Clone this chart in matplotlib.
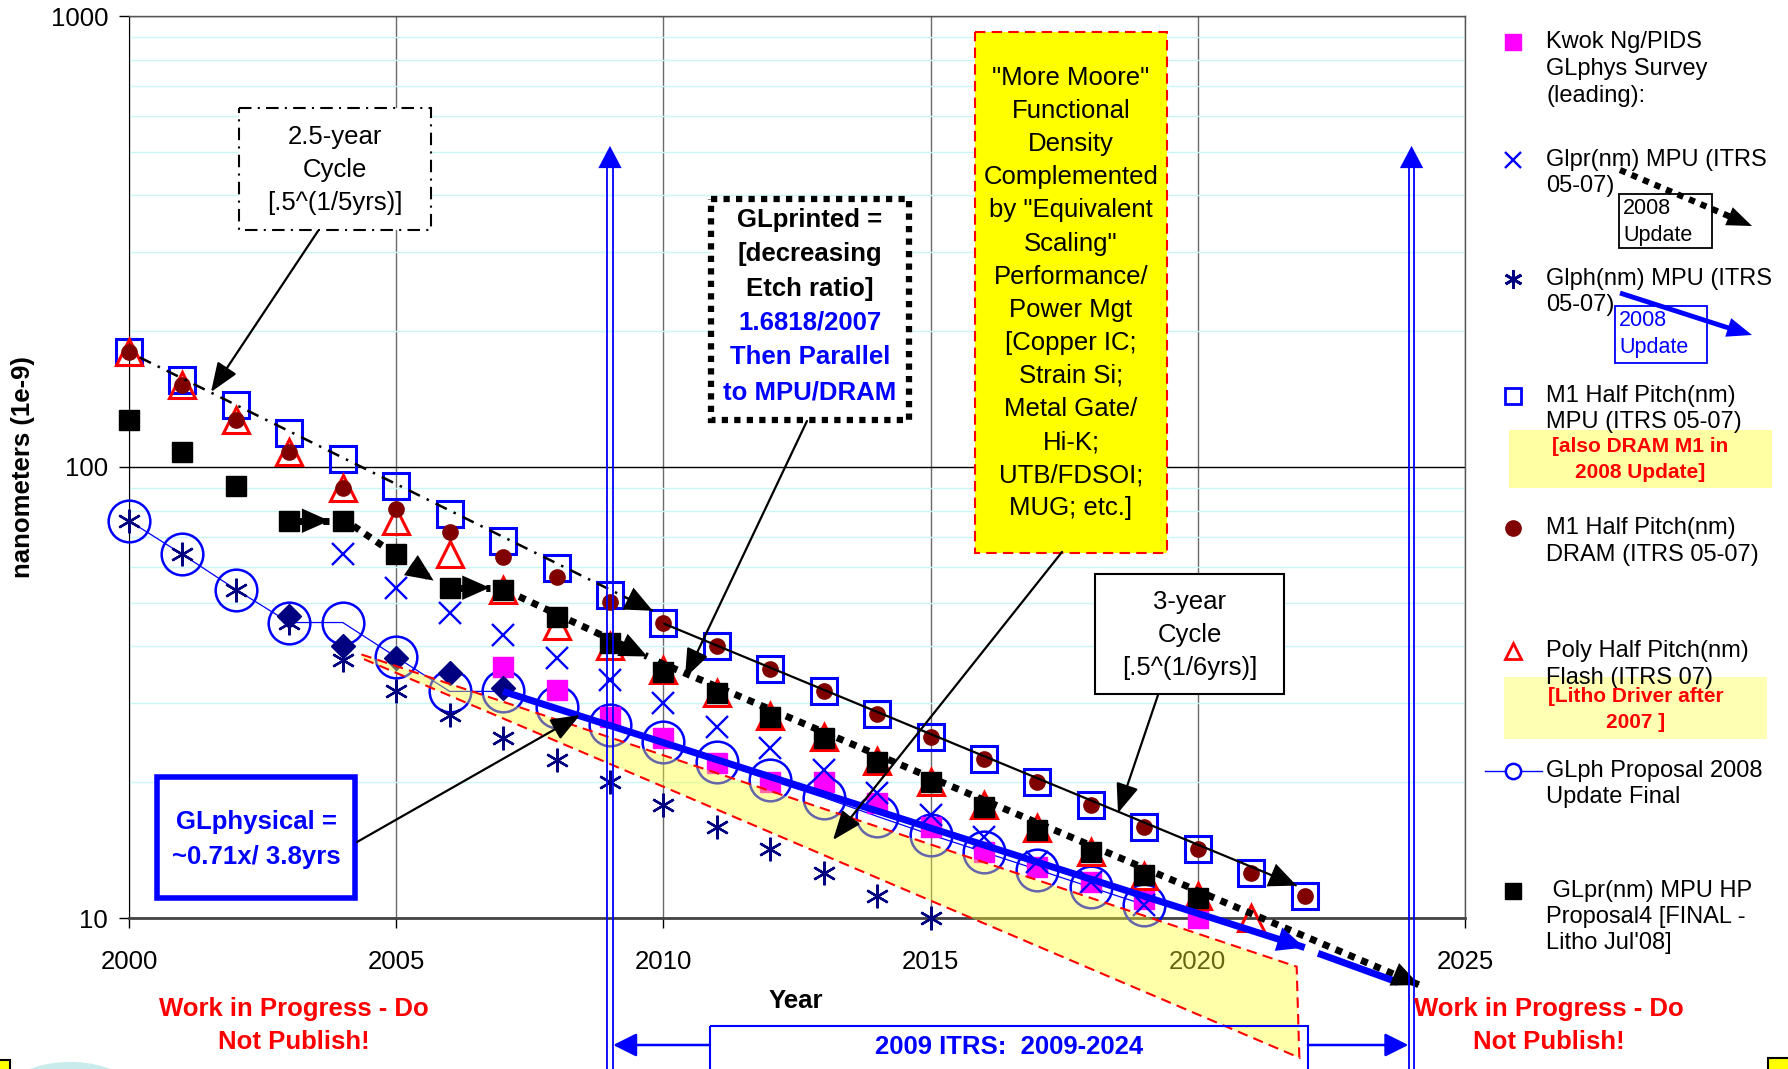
import matplotlib
matplotlib.use("Agg")
import matplotlib.pyplot as plt
from matplotlib.patches import Rectangle, Polygon, Ellipse
from matplotlib.ticker import LogLocator, NullFormatter

plt.rcParams['font.family'] = ['Liberation Sans', 'DejaVu Sans']

# ---- series (nm) ----
yrs_m1 = list(range(2000, 2023))
mpu_m1 = [180, 156, 137, 119, 104, 90.6, 78.5, 68.4, 59.6, 51.9, 45.2, 40, 35.7,
          31.8, 28.4, 25.2, 22.5, 20, 17.8, 15.9, 14.2, 12.6, 11.2]
dram_m1 = [180, 152, 127, 108, 90, 80.5, 71.6, 63.2, 56.9, 50.2, 45.2, 40, 35.7,
           31.8, 28.4, 25.2, 22.5, 20, 17.8, 15.9, 14.2, 12.6, 11.2]

yrs_flash = list(range(2000, 2022))
flash_poly = [180, 152, 127, 108, 90, 76, 64, 53.5, 44.3, 40, 35.5, 31.6, 28,
              25.2, 22.3, 20, 17.8, 15.8, 14, 12.4, 11.2, 10]

yrs_glpr = list(range(2004, 2020))
glpr_mpu = [64, 54, 47.5, 42.5, 37.8, 33.7, 30, 26.5, 23.8, 21.3, 18.9, 16.9,
            15.1, 13.3, 12, 10.7]

yrs_glph = list(range(2000, 2016))
glph_mpu = [76, 64, 53.5, 45.2, 37.4, 31.8, 28.2, 25.1, 22.4, 20, 17.8, 15.9,
            14.2, 12.6, 11.2, 10]

yrs_kwok = list(range(2007, 2021))
kwok_ng = [36, 32, 27.9, 25.1, 22.1, 20, 20, 18, 15.9, 14, 13, 12, 11, 10]

yrs_prop = list(range(2000, 2020))
glph_2008 = [76, 64, 53.5, 45.2, 45.2, 37.9, 31.8, 31.8, 29.3, 26.8, 24.5, 22.2,
             20.2, 18.5, 16.8, 15.3, 14.0, 12.8, 11.7, 10.7]

yrs_diam = list(range(2003, 2008))
glph_diam = [46.8, 40, 37.7, 35, 32.4]

yrs_hp4 = list(range(2000, 2021))
glpr_hp4 = [127, 108, 90.6, 76, 76, 64, 54, 53.5, 46.5, 40.7, 35.2, 31.6, 27.9,
            25.1, 22.2, 20, 17.6, 15.7, 14, 12.45, 11.1]

# trend lines: (x0, y0, x1, y1)
cycle_25 = (2000.2, 175, 2009.8, 48)
cycle_3 = (2010.0, 45, 2021.85, 11.8)
dotted_segs = [(2003.1, 76, 2003.75, 76), (2004.2, 74, 2005.7, 56),
               (2006.15, 54, 2006.75, 54), (2007.3, 51.6, 2009.7, 38),
               (2009.9, 37, 2024.15, 7.1)]
blue_main = (2007.0, 31.8, 2022.0, 8.6)
blue_tail = (2022.25, 8.35, 2023.75, 7.2)
band_x = [2004.35, 2021.85, 2021.9, 2004.35]
band_y = [38.4, 7.8, 4.9, 37.7]
itrs_span = (2009, 2024)

fig = plt.figure(figsize=(17.88, 10.69), dpi=100)
W, H = 1788, 1069
ax = fig.add_axes([129 / W, (H - 918) / H, 1336 / W, 902 / H])
ax.set_yscale('log')
ax.set_xlim(2000, 2025)
ax.set_ylim(10, 1000)
ax.set_xticks(range(2000, 2026, 5))
ax.set_yticks([10, 100, 1000])
ax.set_yticklabels(['10', '100', '1000'])
ax.yaxis.set_minor_locator(LogLocator(base=10, subs=range(2, 10)))
ax.yaxis.set_minor_formatter(NullFormatter())
ax.tick_params(axis='both', which='major', labelsize=18.5, length=7, width=1)
ax.tick_params(axis='x', pad=16)
ax.tick_params(axis='y', pad=8)
ax.tick_params(which='minor', length=0)
ax.set_axisbelow(True)
ax.grid(True, which='minor', axis='y', color='#c9f6f6', lw=1.0)
ax.grid(True, which='major', axis='y', color='black', lw=1.0)
ax.grid(True, which='major', axis='x', color='#6a6a6a', lw=1.0)
for s in ['top', 'right']:
    ax.spines[s].set_color('#555555')
    ax.spines[s].set_linewidth(1.0)
ax.spines['left'].set_color('black')
ax.spines['bottom'].set_color('#444444')
ax.spines['bottom'].set_linewidth(2.0)

# series markers
mk = dict(clip_on=False)
ax.plot(yrs_prop, glph_2008, '-o', color='blue', lw=0.9, ms=30, mfc='none',
        mec='blue', mew=1.8, zorder=3, **mk)
ax.plot(yrs_kwok, kwok_ng, 's', color='#ff00ff', ms=14, zorder=3.2, **mk)
ax.plot(yrs_glph, glph_mpu, ls='none', marker=(6, 2, 0), color='#000080',
        mec='#000080', ms=17, mew=1.7, zorder=3.4, **mk)
ax.plot(yrs_glpr, glpr_mpu, 'x', color='blue', ms=16, mew=1.7, zorder=3.5, **mk)
ax.plot(yrs_m1, mpu_m1, 's', mfc='none', mec='blue', ms=19, mew=2.2, zorder=3.6, **mk)
ax.plot(yrs_flash, flash_poly, '^', mfc='none', mec='red', ms=19, mew=2.2,
        zorder=3.7, **mk)
ax.plot(yrs_m1, dram_m1, 'o', color='#800000', ms=11, zorder=3.8, **mk)
ax.plot(yrs_hp4, glpr_hp4, 's', color='black', ms=15, zorder=3.9, **mk)
ax.plot(yrs_diam, glph_diam, 'D', color='#000080', ms=12, zorder=4, **mk)

# shaded band
band = Polygon(list(zip(band_x, band_y)), closed=True, fc=(1, 1, 0.17), alpha=0.4,
               ec='none', zorder=5, clip_on=False)
ax.add_patch(band)
ax.add_patch(Polygon(list(zip(band_x, band_y)), closed=True, fc='none', ec='red',
                     lw=1.5, ls=(0, (5, 3)), zorder=5.1, clip_on=False))


def head(a, x0, y0, x1, y1, color, ms=22, hl=0.9, hw=0.4, lw=0, coords='data'):
    a.annotate('', xy=(x1, y1), xytext=(x0, y0), xycoords=coords, textcoords=coords,
               arrowprops=dict(arrowstyle=f'-|>,head_length={hl},head_width={hw}',
                               color=color, lw=lw, shrinkA=0, shrinkB=0,
                               mutation_scale=ms),
               annotation_clip=False, zorder=7)


def trend(x0, y0, x1, y1, color, lw, ls='-', arrow=True, z=6):
    ax.plot([x0, x1], [y0, y1], color=color, lw=lw, ls=ls, zorder=z,
            solid_capstyle='butt', dash_capstyle='butt', clip_on=False)
    if arrow:
        head(ax, x0, y0, x1, y1, color)


trend(*cycle_25, color='black', lw=1.8, ls=(0, (5, 3, 1, 3)))
trend(*cycle_3, color='black', lw=1.6)
for sg in dotted_segs:
    trend(*sg, color='black', lw=5, ls=(0, (1, 1)))
trend(*blue_main, color='blue', lw=5)
trend(*blue_tail, color='blue', lw=5, arrow=False)

# ITRS window markers
xt = ax.get_xaxis_transform()
for xv in itrs_span:
    for d in (-0.052, 0.052):
        ax.plot([xv + d, xv + d], [-0.17, 0.84], color='blue', lw=1.3,
                transform=xt, clip_on=False, zorder=7)
    head(ax, xv, 0.5, xv, 0.856, 'blue', ms=20, hl=0.8, hw=0.42, coords=xt)
head(ax, 2010.87, -0.1408, itrs_span[0] + 0.06, -0.1408, 'blue', ms=16, hl=0.9,
     hw=0.45, lw=1.8, coords=xt)
head(ax, 2022.06, -0.1408, itrs_span[1] - 0.06, -0.1408, 'blue', ms=16, hl=0.9,
     hw=0.45, lw=1.8, coords=xt)

# ---- overlay in pixel coordinates for notes and legend ----
ov = fig.add_axes([0, 0, 1, 1])
ov.set_zorder(5)
ov.set_xlim(0, W)
ov.set_ylim(H, 0)
ov.axis('off')
ov.patch.set_visible(False)


def lines(x, y0, dy, rows, ha='center', **kw):
    for i, s in enumerate(rows):
        ov.text(x, y0 + i * dy, s, ha=ha, va='center', **kw)


def box(x0, y0, x1, y1, **kw):
    ov.add_patch(Rectangle((x0, y0), x1 - x0, y1 - y0, **kw))


def pix_arrow(x0, y0, x1, y1, color='black', lw=1.6, ms=20):
    ov.annotate('', xy=(x1, y1), xytext=(x0, y0),
                arrowprops=dict(arrowstyle='-|>,head_length=0.9,head_width=0.35',
                                color=color, lw=lw, shrinkA=0, shrinkB=0,
                                mutation_scale=ms))


FS = 18.5
# 2.5-year note
box(239, 108, 431, 230, fc='white', ec='black', lw=1.5, ls=(0, (6, 3, 1, 3)))
lines(335, 137, 33, ['2.5-year', 'Cycle', '[.5^(1/5yrs)]'], fontsize=FS)
pix_arrow(318, 231, 211, 392)

# GLprinted note
box(711, 199, 909, 420, fc='white', ec='black', lw=4.5, ls=(0, (1, 1)))
lines(810, 220, 34.5, ['GLprinted =', '[decreasing', 'Etch ratio]'],
      fontsize=FS, fontweight='bold', color='black')
lines(810, 323, 34.5, ['1.6818/2007', 'Then Parallel', 'to MPU/DRAM'],
      fontsize=FS, fontweight='bold', color='blue')
pix_arrow(807, 421, 685, 678)

# More Moore note
box(975, 32, 1167, 553, fc='#ffff00', ec='red', lw=1.5, ls=(0, (5, 3)))
lines(1071, 78, 33.1, ['"More Moore"', 'Functional', 'Density', 'Complemented',
                       'by "Equivalent', 'Scaling"', 'Performance/', 'Power Mgt',
                       '[Copper IC;', 'Strain Si;', 'Metal Gate/', 'Hi-K;',
                       'UTB/FDSOI;', 'MUG; etc.]'], fontsize=FS)
pix_arrow(1062, 552, 833, 840)

# 3-year note
box(1095, 574, 1284, 694, fc='white', ec='black', lw=1.5)
lines(1190, 602, 33, ['3-year', 'Cycle', '[.5^(1/6yrs)]'], fontsize=FS)
pix_arrow(1158, 695, 1118, 813)

# GLphysical note
box(157, 777, 355, 898, fc='white', ec='blue', lw=4)
lines(256, 822, 35, ['GLphysical =', '~0.71x/ 3.8yrs'], fontsize=FS,
      fontweight='bold', color='blue')
pix_arrow(357, 842, 580, 715)

# axis titles and footer notes
ov.text(23, 467, 'nanometers (1e-9)', rotation=90, ha='center', va='center',
        fontsize=18.5, fontweight='bold')
ov.text(796, 1001, 'Year', ha='center', va='center', fontsize=18.5, fontweight='bold')
for cx in (294, 1549):
    lines(cx, 1009, 33, ['Work in Progress - Do', 'Not Publish!'], fontsize=FS,
          fontweight='bold', color='red')
box(710, 1026, 1308, 1080, fc='none', ec='blue', lw=1.5, clip_on=False)
ov.text(1009, 1047, '2009 ITRS:  2009-2024', ha='center', va='center',
        fontsize=FS, fontweight='bold', color='blue')

# page decorations at the bottom corners
ov.add_patch(Ellipse((70, 1136), 180, 140, fc='none', ec='#a8dede', lw=6, alpha=0.6))
box(-2, 1060, 10, 1075, fc='#ffff00', ec='black', lw=1.5, clip_on=False)
box(1768, 1058, 1795, 1075, fc='#ffff00', ec='black', lw=1.5, clip_on=False)

# ---- legend ----
LX, TX, LFS = 1513, 1546, 17
ov.plot([LX], [42], 's', color='#ff00ff', ms=12)
lines(TX, 42, 27, ['Kwok Ng/PIDS', 'GLphys Survey', '(leading):'], ha='left', fontsize=LFS)

ov.plot([LX], [160], 'x', color='blue', ms=12, mew=1.7)
lines(TX, 160, 26, ['Glpr(nm) MPU (ITRS', '05-07)'], ha='left', fontsize=LFS)
box(1619, 194, 1712, 248, fc='none', ec='black', lw=1.3)
lines(1623, 208, 27, ['2008', 'Update'], ha='left', fontsize=15.5)
ov.plot([1620, 1738], [170, 220], color='black', lw=4.5, ls=(0, (1, 1)),
        dash_capstyle='butt')
pix_arrow(1620, 170, 1752, 226, lw=0, ms=20)

ov.plot([LX], [279], ls='none', marker=(6, 2, 0), color='#000080', mec='#000080',
        ms=13, mew=2)
lines(TX, 279, 26, ['Glph(nm) MPU (ITRS', '05-07)'], ha='left', fontsize=LFS)
box(1615, 306, 1707, 363, fc='none', ec='blue', lw=1.3)
lines(1619, 320, 27, ['2008', 'Update'], ha='left', fontsize=15.5, color='blue')
ov.plot([1620, 1738], [293, 331], color='blue', lw=3.5, solid_capstyle='butt')
pix_arrow(1620, 293, 1752, 335, color='blue', lw=0, ms=20)

ov.plot([LX], [396], 's', mfc='none', mec='blue', ms=12, mew=2)
lines(TX, 396, 26, ['M1 Half Pitch(nm)', 'MPU (ITRS 05-07)'], ha='left', fontsize=LFS)
box(1509, 430, 1772, 488, fc='#ffff9a', ec='none', alpha=0.9)
lines(1640, 446, 27, ['[also DRAM M1 in', '2008 Update]'], fontsize=15,
      fontweight='bold', color='red')

ov.plot([LX], [528], 'o', color='#800000', ms=11)
lines(TX, 528, 27, ['M1 Half Pitch(nm)', 'DRAM (ITRS 05-07)'], ha='left', fontsize=LFS)

ov.plot([LX], [651], '^', mfc='none', mec='red', ms=12, mew=2)
lines(TX, 651, 27, ['Poly Half Pitch(nm)', 'Flash (ITRS 07)'], ha='left', fontsize=LFS)
box(1504, 677, 1767, 739, fc='#ffff9a', ec='none', alpha=0.75)
lines(1636, 696, 27, ['[Litho Driver after', '2007 ]'], fontsize=15,
      fontweight='bold', color='red')

ov.plot([1485, 1542], [771, 771], color='blue', lw=1)
ov.plot([LX], [771], 'o', mfc='white', mec='blue', ms=11, mew=1.8)
lines(TX, 771, 26, ['GLph Proposal 2008', 'Update Final'], ha='left', fontsize=LFS)

ov.plot([LX], [891], 's', color='black', ms=12)
lines(TX, 891, 26, [' GLpr(nm) MPU HP', 'Proposal4 [FINAL -', "Litho Jul'08]"],
      ha='left', fontsize=LFS)

fig.savefig('out.png', dpi=100)
